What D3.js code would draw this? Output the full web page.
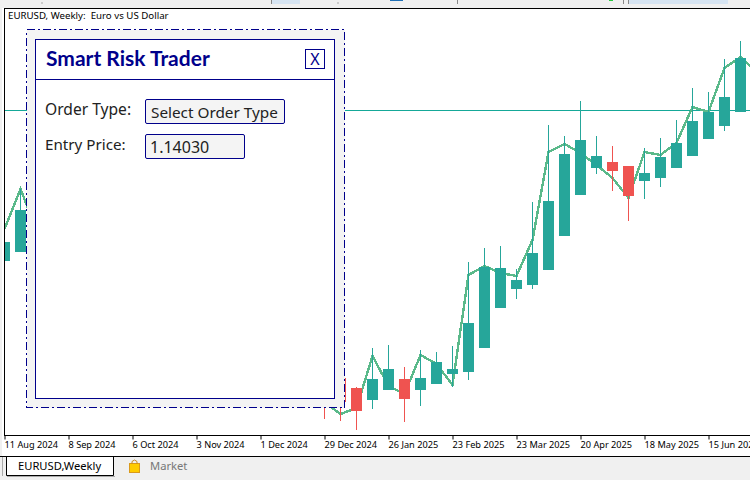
<!DOCTYPE html>
<html lang="en">
<head>
<meta charset="UTF-8">
<title>EURUSD, Weekly</title>
<script src="https://d3js.org/d3.v7.min.js"></script>
<style>
  html, body { margin: 0; padding: 0; background: #f0f0f0; overflow: hidden; }
  svg { display: block; }
  text { font-family: 'Noto Sans', sans-serif; }
</style>
</head>
<body>
<div id="wrapper"></div>
<script>
// weekly candles (the ones behind the panel are not visible)
const weeks = ["2024-08-11","2024-08-18","2024-12-29","2025-01-05","2025-01-12","2025-01-19","2025-01-26","2025-02-02","2025-02-09","2025-02-16","2025-02-23","2025-03-02","2025-03-09","2025-03-16","2025-03-23","2025-03-30","2025-04-06","2025-04-13","2025-04-20","2025-04-27","2025-05-04","2025-05-11","2025-05-18","2025-05-25","2025-06-01","2025-06-08","2025-06-15","2025-06-22","2025-06-29"];
const opens  = [1.0801,1.0837,1.0265,1.0333,1.0293,1.0245,1.0285,1.0329,1.0285,1.0309,1.0349,1.0357,1.0453,1.0613,1.0689,1.0705,1.0765,1.0901,1.1065,1.1173,1.1197,1.1181,1.1121,1.1133,1.1173,1.1221,1.1289,1.1341,1.1397];
const highs  = [1.0877,1.1089,1.0285,1.0345,1.0298,1.0453,1.0465,1.0377,1.0445,1.0437,1.0461,1.0797,1.0853,1.0861,1.0769,1.1037,1.1345,1.1301,1.1441,1.1301,1.1261,1.1181,1.1253,1.1293,1.1365,1.1493,1.1477,1.1609,1.1681];
const lows   = [1.0801,1.0837,1.0169,1.0161,1.0125,1.0209,1.0285,1.0157,1.0221,1.0309,1.0297,1.0325,1.0453,1.0613,1.0649,1.0689,1.0765,1.0901,1.1065,1.1149,1.1081,1.0961,1.1049,1.1097,1.1173,1.1221,1.1289,1.1321,1.1397];
const closes = [1.0877,1.1005,1.0245,1.0237,1.0201,1.0329,1.0369,1.0249,1.0333,1.0397,1.0369,1.0553,1.0777,1.0773,1.0725,1.0833,1.1041,1.1229,1.1285,1.1221,1.1161,1.1061,1.1153,1.1217,1.1273,1.1361,1.1397,1.1457,1.1613];

// the green line on top of price
const lineWeeks = ["2024-08-11","2024-08-18","2024-08-25","2024-12-29","2025-01-05","2025-01-12","2025-01-19","2025-01-26","2025-02-02","2025-02-09","2025-02-16","2025-02-23","2025-03-02","2025-03-09","2025-03-16","2025-03-23","2025-03-30","2025-04-06","2025-04-13","2025-04-20","2025-04-27","2025-05-04","2025-05-11","2025-05-18","2025-05-25","2025-06-01","2025-06-08","2025-06-15","2025-06-22","2025-06-29","2025-07-06"];
const lineValues = [1.0929,1.1089,1.0925,1.0237,1.0189,1.0213,1.0421,1.0301,1.0269,1.0425,1.0389,1.0305,1.0745,1.0781,1.0753,1.0741,1.0885,1.1237,1.1269,1.1233,1.1185,1.1133,1.1053,1.1237,1.1225,1.1273,1.1417,1.1397,1.1573,1.1617,1.1557];

const entryPrice = 1.1403;
const tickWeeks = ["2024-08-11","2024-09-08","2024-10-06","2024-11-03","2024-12-01","2024-12-29","2025-01-26","2025-02-23","2025-03-23","2025-04-20","2025-05-18","2025-06-15"];

const chartTitle = "EURUSD, Weekly:  Euro vs US Dollar";
const orderTypeText = "Select Order Type";
const entryText = "1.14030";

const UP = "#26a69a", DOWN = "#ef5350", LINE = "#5ab98a", NAVY = "#00008b", ENTRY = "#15a898";

const parse = d3.utcParse("%Y-%m-%d");
const width = 750, height = 480;

const xScale = d3.scaleUtc()
  .domain([parse("2024-08-11"), parse("2025-06-15")])
  .range([4.5, 708.5]);
const yScale = d3.scaleLinear()
  .domain([1.1845, 1.0125])
  .range([0, 430]);

const svg = d3.select("#wrapper").append("svg")
  .attr("width", width).attr("height", height);

// window strip at the top, only its bottom edge shows
[[41,2,2,2,"#cccccc"],[337,2,2,2,"#cccccc"],[271,0,1,4,"#888888"],[272,0,28,4,"#d6e4f2"],
 [390,0,13,1,"#1f6fb5"],[457,0,1,4,"#888888"],[609,0,4,1,"#28c840"],[623,0,1,4,"#888888"],
 [628,0,1,4,"#888888"],[629,0,99,4,"#d6e4f2"]].forEach(d => {
  svg.append("rect").attr("x",d[0]).attr("y",d[1]).attr("width",d[2]).attr("height",d[3]).attr("fill",d[4]);
});

// chart area
svg.append("rect").attr("x",2).attr("y",8).attr("width",748).attr("height",448).attr("fill","#fff");
svg.append("clipPath").attr("id","plot").append("rect")
  .attr("x",5).attr("y",9).attr("width",745).attr("height",426);
const plot = svg.append("g").attr("clip-path","url(#plot)").attr("shape-rendering","crispEdges");

// entry price line
plot.append("line")
  .attr("x1",5).attr("x2",width)
  .attr("y1",Math.floor(yScale(entryPrice))+0.5).attr("y2",Math.floor(yScale(entryPrice))+0.5)
  .attr("stroke",ENTRY);

const line = d3.line()
  .x((d,i) => xScale(parse(lineWeeks[i])))
  .y(d => yScale(d));
plot.append("path")
  .attr("d",line(lineValues))
  .attr("fill","none").attr("stroke",LINE).attr("stroke-width",2.4);

const candles = plot.selectAll("g.candle").data(weeks).join("g").attr("class","candle");
const colour = i => closes[i] >= opens[i] ? UP : DOWN;
candles.append("line")
  .attr("x1",d => xScale(parse(d))).attr("x2",d => xScale(parse(d)))
  .attr("y1",(d,i) => yScale(highs[i])).attr("y2",(d,i) => yScale(lows[i]))
  .attr("stroke",(d,i) => colour(i));
candles.append("rect")
  .attr("x",d => xScale(parse(d))-5.5).attr("width",11)
  .attr("y",(d,i) => yScale(Math.max(opens[i],closes[i])))
  .attr("height",(d,i) => Math.abs(yScale(opens[i])-yScale(closes[i])))
  .attr("fill",(d,i) => colour(i));

// frame
svg.append("path").attr("d","M4.5,435V8.5H750").attr("fill","none").attr("stroke","#000").attr("shape-rendering","crispEdges");
svg.append("line").attr("x1",0).attr("x2",width).attr("y1",456.5).attr("y2",456.5).attr("stroke","#000");
svg.append("rect").attr("x",0).attr("y",457).attr("width",750).attr("height",23).attr("fill","#f0f0f0");

const xAxis = d3.axisBottom(xScale)
  .tickValues(tickWeeks.map(parse))
  .tickFormat(d3.utcFormat("%-d %b %Y"))
  .tickSize(4).tickSizeOuter(0);
const axisG = svg.append("g").attr("transform","translate(0,435.5)").call(xAxis);
axisG.select(".domain").attr("d","M4,0H750").attr("stroke","#000");
axisG.selectAll(".tick line").attr("stroke","#000");
axisG.selectAll(".tick text")
  .attr("text-anchor","start").attr("x",-0.5).attr("y",5.5)
  .attr("fill","#000").style("font-size","9.2px").style("font-family","'Noto Sans', sans-serif");

svg.append("text").attr("x",8).attr("y",19).attr("xml:space","preserve")
  .style("white-space","pre").style("font-size","9.7px").attr("fill","#000").text(chartTitle);

// trading panel
const panel = svg.append("g").attr("shape-rendering","crispEdges");
panel.append("rect").attr("x",26.5).attr("y",29.5).attr("width",318).attr("height",378)
  .attr("fill","#f4f4f4").attr("stroke",NAVY).attr("stroke-dasharray","8 3 2 3");
panel.append("rect").attr("x",35.5).attr("y",39.5).attr("width",299).attr("height",359)
  .attr("fill","#fff").attr("stroke",NAVY);
panel.append("line").attr("x1",35.5).attr("x2",334.5).attr("y1",79.5).attr("y2",79.5).attr("stroke",NAVY);
panel.append("rect").attr("x",305.5).attr("y",49.5).attr("width",19).attr("height",19)
  .attr("fill","#fff").attr("stroke",NAVY);

const boxes = svg.append("g");
boxes.append("rect").attr("x",145.5).attr("y",99.5).attr("width",139).attr("height",24).attr("rx",1.5)
  .attr("fill","#f4f4f4").attr("stroke",NAVY);
boxes.append("rect").attr("x",145.5).attr("y",134.5).attr("width",99).attr("height",24).attr("rx",1.5)
  .attr("fill","#f4f4f4").attr("stroke",NAVY);

svg.append("text").attr("x",46).attr("y",66).attr("fill",NAVY)
  .style("font-family","'Comic Sans MS','Lato',sans-serif").style("font-size","21px").style("font-weight",700)
  .text("Smart Risk Trader");
svg.append("text").attr("x",315).attr("y",65).attr("text-anchor","middle").attr("fill",NAVY)
  .style("font-size","16px").text("X");
svg.append("text").attr("x",45).attr("y",115).attr("fill","#222").style("font-size","15.6px").text("Order Type:");
svg.append("text").attr("x",45).attr("y",150).attr("fill","#222").style("font-size","15.2px").text("Entry Price:");
svg.append("text").attr("x",151).attr("y",118).attr("fill","#222").style("font-size","15.3px").text(orderTypeText);
svg.append("text").attr("x",150).attr("y",153).attr("fill","#222").style("font-size","16px").text(entryText);

// bottom tabs
svg.append("line").attr("x1",2.5).attr("x2",2.5).attr("y1",457).attr("y2",476).attr("stroke","#aaa");
svg.append("path").attr("d","M6.5,457V475.5H113.5V457").attr("fill","#fff").attr("stroke","#000");
svg.append("line").attr("x1",7).attr("x2",115).attr("y1",476.5).attr("y2",476.5).attr("stroke","#aaa");
svg.append("text").attr("x",18).attr("y",470).attr("fill","#000").style("font-size","11.2px").text("EURUSD,Weekly");
svg.append("rect").attr("x",129.5).attr("y",463.5).attr("width",10).attr("height",9).attr("fill","#ffcc00").attr("stroke","#d99a1c");
svg.append("path").attr("d","M132,464V461.5Q134.5,458.5 137,461.5V464").attr("fill","none").attr("stroke","#c98a1c");
svg.append("text").attr("x",150).attr("y",470).attr("fill","#777").style("font-size","11.2px").text("Market");
</script>
</body>
</html>
